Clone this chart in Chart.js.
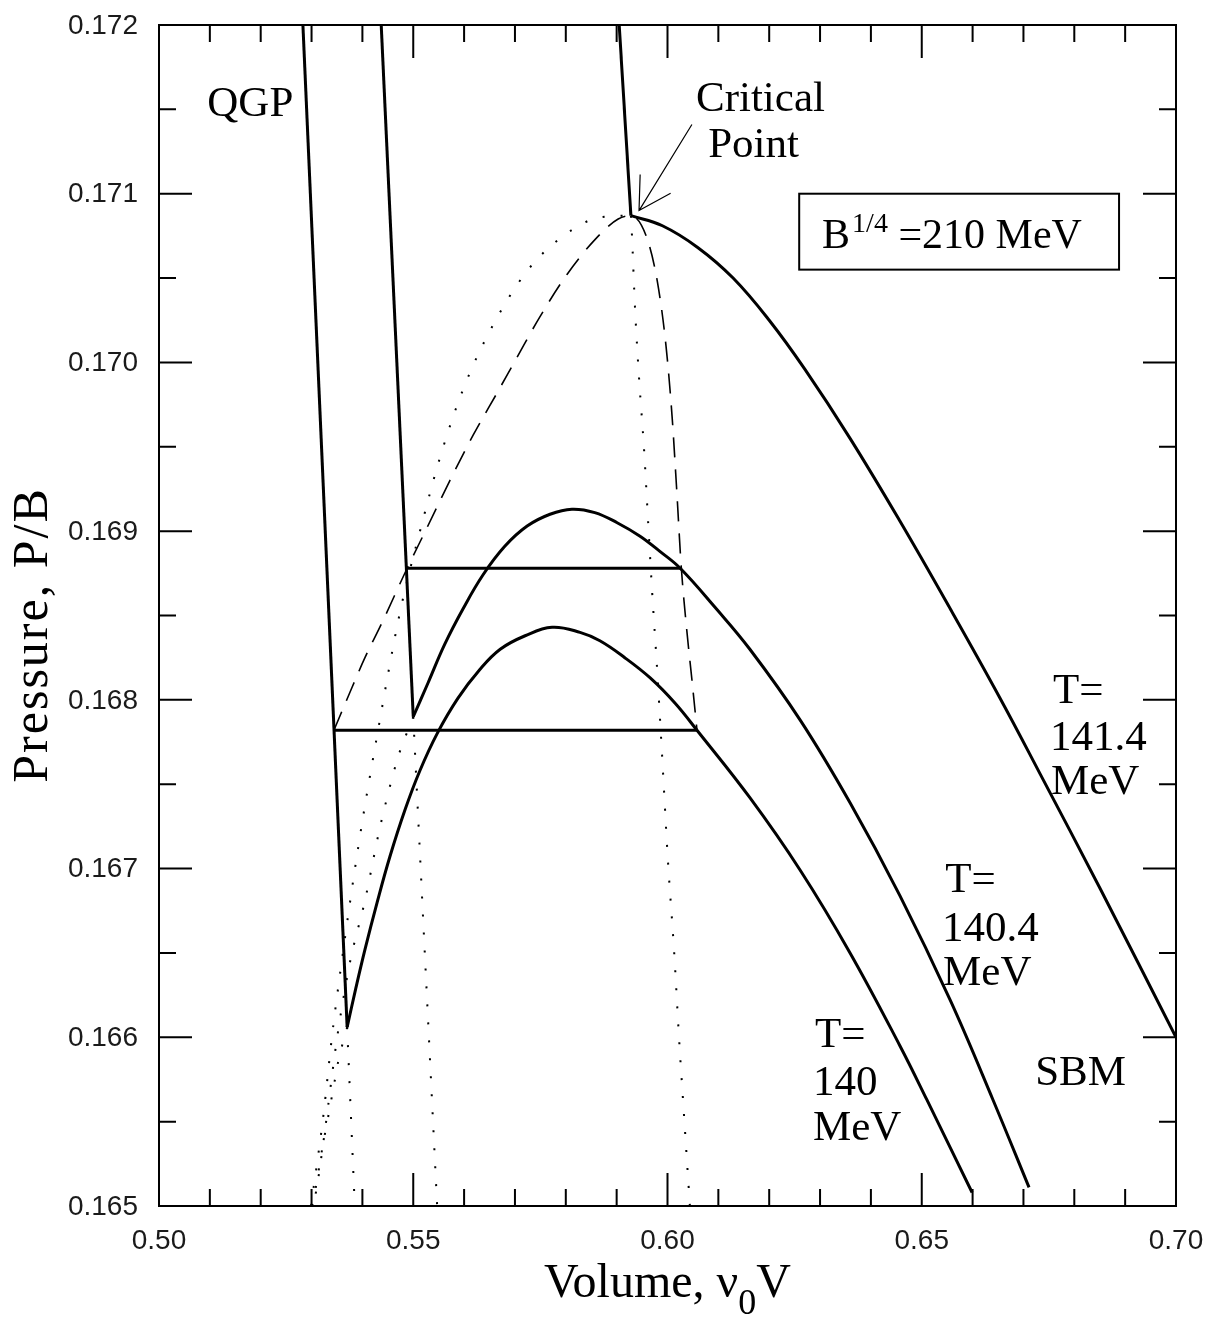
<!DOCTYPE html>
<html>
<head>
<meta charset="utf-8">
<script src="https://cdn.jsdelivr.net/npm/chart.js@4.4.0/dist/chart.umd.min.js"></script>
<style>
  html, body { margin: 0; padding: 0; background: #fff; }
</style>
</head>
<body>
<canvas id="pv" width="1208" height="1320"></canvas>
<script>
// points as [volume nu0*V, pressure P/B]
const qgp140 = [[0.5283, 0.17200], [0.5370, 0.16606]];
const hadron140 = [[0.5370, 0.16606], [0.5387, 0.16629], [0.5405, 0.16652], [0.5429, 0.16680], [0.5454, 0.16707],
  [0.5484, 0.16735], [0.5513, 0.16758], [0.5547, 0.16780], [0.5588, 0.16801], [0.5631, 0.16818], [0.5671, 0.16830],
  [0.5720, 0.16838], [0.5773, 0.16843], [0.5828, 0.16840], [0.5867, 0.16835], [0.5916, 0.16825], [0.5966, 0.16813],
  [0.6015, 0.16798], [0.6058, 0.16782], [0.6162, 0.16742], [0.6261, 0.16699], [0.6359, 0.16650], [0.6457, 0.16595],
  [0.6510, 0.16563], [0.6599, 0.16508]];

const qgp1404 = [[0.5437, 0.17200], [0.5500, 0.16790]];
const hadron1404 = [[0.5500, 0.16790], [0.5529, 0.16810], [0.5562, 0.16833], [0.5598, 0.16854], [0.5637, 0.16874],
  [0.5680, 0.16891], [0.5724, 0.16903], [0.5769, 0.16910], [0.5812, 0.16913], [0.5857, 0.16911], [0.5901, 0.16905],
  [0.5946, 0.16897], [0.5985, 0.16888], [0.6025, 0.16878], [0.6093, 0.16855], [0.6162, 0.16830], [0.6261, 0.16788],
  [0.6359, 0.16739], [0.6457, 0.16684], [0.6556, 0.16622], [0.6640, 0.16563], [0.6711, 0.16511]];

const qgp1414 = [[0.5905, 0.17200], [0.5928, 0.17087]];
const hadron1414 = [[0.5928, 0.17087], [0.5990, 0.17081], [0.6060, 0.17068], [0.6129, 0.17050],
  [0.6200, 0.17025], [0.6270, 0.16996], [0.6359, 0.16955], [0.6457, 0.16906], [0.6556, 0.16854],
  [0.6654, 0.16801], [0.6733, 0.16756], [0.6851, 0.16688], [0.7000, 0.16600]];

// Maxwell tie lines
const tie140 = [[0.5344, 0.16782], [0.6058, 0.16782]];
const tie1404 = [[0.5488, 0.16878], [0.6025, 0.16878]];

// coexistence curve (dashed)
const coexist = [[0.5344, 0.16782], [0.5372, 0.16802], [0.5405, 0.16825], [0.5439, 0.16846], [0.5488, 0.16878],
  [0.5527, 0.16902], [0.5572, 0.16930], [0.5618, 0.16957], [0.5665, 0.16982], [0.5704, 0.17003], [0.5749, 0.17027],
  [0.5802, 0.17052], [0.5861, 0.17074], [0.5903, 0.17085], [0.5928, 0.17087], [0.5958, 0.17075], [0.5980, 0.17048],
  [0.5997, 0.17010], [0.6009, 0.16968], [0.6018, 0.16925], [0.6027, 0.16879], [0.6038, 0.16841],
  [0.6048, 0.16812], [0.6058, 0.16782]];

// spinodal and metastable branches (dotted)
const spinLeft = [[0.5299, 0.16500], [0.5323, 0.16553], [0.5340, 0.16600], [0.5358, 0.16642], [0.5393, 0.16715],
  [0.5429, 0.16779], [0.5474, 0.16852], [0.5515, 0.16902], [0.5553, 0.16944], [0.5598, 0.16984], [0.5653, 0.17020],
  [0.5726, 0.17055], [0.5800, 0.17076], [0.5867, 0.17086], [0.5928, 0.17087]];
const spinRight = [[0.5928, 0.17087], [0.5930, 0.17076], [0.5936, 0.17033], [0.5944, 0.16991], [0.5954, 0.16948],
  [0.5962, 0.16905], [0.5970, 0.16863], [0.5979, 0.16821], [0.5989, 0.16769], [0.6001, 0.16704], [0.6013, 0.16651],
  [0.6023, 0.16598], [0.6032, 0.16556], [0.6044, 0.16500]];
const meta1404 = [[0.5500, 0.16790], [0.5470, 0.16766], [0.5435, 0.16725], [0.5405, 0.16681], [0.5378, 0.16648],
  [0.5362, 0.16622], [0.5348, 0.16595], [0.5326, 0.16544], [0.5311, 0.16512], [0.5303, 0.16500]];
const meta140 = [[0.5370, 0.16606], [0.5360, 0.16595], [0.5352, 0.16585], [0.5346, 0.16575], [0.5334, 0.16555],
  [0.5321, 0.16534], [0.5309, 0.16512], [0.5301, 0.16500]];
const qgpCont140 = [[0.5370, 0.16606], [0.5385, 0.16500]];
const qgpCont1404 = [[0.5500, 0.16790], [0.5547, 0.16500]];

// text placed in data coordinates (left edge, baseline)
const notes = [
  ['QGP', 0.5095, 0.17146],
  ['Critical', 0.6056, 0.17149],
  ['Point', 0.6080, 0.17122],
  ['T=', 0.6758, 0.16798], ['141.4', 0.6752, 0.16770], ['MeV', 0.6754, 0.16744],
  ['T=', 0.6546, 0.16686], ['140.4', 0.6540, 0.16657], ['MeV', 0.6542, 0.16631],
  ['T=', 0.6290, 0.16594], ['140', 0.6286, 0.16566], ['MeV', 0.6286, 0.16539],
  ['SBM', 0.6723, 0.16572]
];
const arrowTail = [0.6048, 0.17141];
const arrowTip = [0.5944, 0.17090];
const boxCorners = [[0.6259, 0.17100], [0.6888, 0.17055]];
const boxText = [0.6304, 0.17068];

const xTickLabels = [0.50, 0.55, 0.60, 0.65, 0.70];
const yTickLabels = [0.165, 0.166, 0.167, 0.168, 0.169, 0.170, 0.171, 0.172];

const pts = arr => arr.map(d => ({ x: d[0], y: d[1] }));

function solid(data, tension) {
  return { data: pts(data), showLine: true, pointRadius: 0, borderColor: '#000', borderWidth: 3, tension: tension };
}
function dotted(data, mode) {
  const ds = { data: pts(data), showLine: true, pointRadius: 0, borderColor: '#000', borderWidth: 2,
    borderDash: [2, 16], borderCapStyle: 'butt' };
  if (mode === 'mono') ds.cubicInterpolationMode = 'monotone';
  else ds.tension = mode;
  return ds;
}

const serif = '"Liberation Serif", "Times New Roman", serif';
const sans = '"Liberation Sans", Arial, sans-serif';

const framePlugin = {
  id: 'framePlugin',
  afterDraw(chart) {
    const { ctx, chartArea: a, scales: { x, y } } = chart;
    ctx.save();
    ctx.strokeStyle = '#000';
    ctx.lineWidth = 2;
    ctx.strokeRect(a.left, a.top, a.right - a.left, a.bottom - a.top);

    // inward ticks on all four sides
    ctx.beginPath();
    for (let i = 0; i <= 20; i++) {
      const px = x.getPixelForValue(0.5 + i * 0.01);
      const len = i % 5 === 0 ? 33 : 17;
      ctx.moveTo(px, a.bottom); ctx.lineTo(px, a.bottom - len);
      ctx.moveTo(px, a.top); ctx.lineTo(px, a.top + len);
    }
    for (let i = 0; i <= 14; i++) {
      const py = y.getPixelForValue(0.165 + i * 0.0005);
      const len = i % 2 === 0 ? 33 : 17;
      ctx.moveTo(a.left, py); ctx.lineTo(a.left + len, py);
      ctx.moveTo(a.right, py); ctx.lineTo(a.right - len, py);
    }
    ctx.stroke();

    // tick labels
    ctx.fillStyle = '#1a1a1a';
    ctx.font = '28px ' + sans;
    ctx.textBaseline = 'middle';
    ctx.textAlign = 'right';
    yTickLabels.forEach(v => ctx.fillText(v.toFixed(3), a.left - 21, y.getPixelForValue(v) + 1));
    ctx.textAlign = 'center';
    xTickLabels.forEach(v => ctx.fillText(v.toFixed(2), x.getPixelForValue(v), a.bottom + 35));

    ctx.fillStyle = '#000';
    ctx.textAlign = 'left';
    ctx.textBaseline = 'alphabetic';
    ctx.font = '43px ' + serif;
    notes.forEach(n => ctx.fillText(n[0], x.getPixelForValue(n[1]), y.getPixelForValue(n[2])));

    // arrow to critical point
    const tx = x.getPixelForValue(arrowTail[0]), ty = y.getPixelForValue(arrowTail[1]);
    const hx = x.getPixelForValue(arrowTip[0]), hy = y.getPixelForValue(arrowTip[1]);
    const ang = Math.atan2(ty - hy, tx - hx);
    ctx.lineWidth = 1.2;
    ctx.beginPath();
    ctx.moveTo(tx, ty); ctx.lineTo(hx, hy);
    ctx.moveTo(hx + 36 * Math.cos(ang - 0.52), hy + 36 * Math.sin(ang - 0.52));
    ctx.lineTo(hx, hy);
    ctx.lineTo(hx + 36 * Math.cos(ang + 0.52), hy + 36 * Math.sin(ang + 0.52));
    ctx.stroke();

    // B^{1/4} box
    const bx1 = x.getPixelForValue(boxCorners[0][0]), by1 = y.getPixelForValue(boxCorners[0][1]);
    const bx2 = x.getPixelForValue(boxCorners[1][0]), by2 = y.getPixelForValue(boxCorners[1][1]);
    ctx.lineWidth = 2;
    ctx.strokeRect(bx1, by1, bx2 - bx1, by2 - by1);
    let cx = x.getPixelForValue(boxText[0]);
    const cy = y.getPixelForValue(boxText[1]);
    ctx.font = '42px ' + serif;
    ctx.fillText('B', cx, cy);
    cx += ctx.measureText('B').width + 2;
    ctx.font = '28px ' + serif;
    ctx.fillText('1/4', cx, cy - 16);
    cx += ctx.measureText('1/4').width;
    ctx.font = '42px ' + serif;
    ctx.fillText(' =210 MeV', cx, cy);

    // axis titles
    const mid = (a.left + a.right) / 2;
    const base = a.bottom + 91;
    ctx.font = '48px ' + serif;
    const w1 = ctx.measureText('Volume, \u03BD').width;
    const wV = ctx.measureText('V').width;
    ctx.font = '36px ' + serif;
    const w0 = ctx.measureText('0').width;
    const sx = mid - (w1 + w0 + wV) / 2;
    ctx.font = '48px ' + serif;
    ctx.fillText('Volume, \u03BD', sx, base);
    ctx.font = '36px ' + serif;
    ctx.fillText('0', sx + w1, base + 17);
    ctx.font = '48px ' + serif;
    ctx.fillText('V', sx + w1 + w0, base);

    ctx.translate(47, 635);
    ctx.rotate(-Math.PI / 2);
    ctx.textAlign = 'center';
    ctx.font = '50px ' + serif;
    ctx.letterSpacing = '2px';
    ctx.fillText('Pressure, P/B', 0, 0);
    ctx.restore();
  }
};

new Chart(document.getElementById('pv'), {
  type: 'scatter',
  data: {
    datasets: [
      solid(qgp140, 0), solid(hadron140, 0.4),
      solid(qgp1404, 0), solid(hadron1404, 0.4),
      solid(qgp1414, 0), solid(hadron1414, 0.4),
      solid(tie140, 0), solid(tie1404, 0),
      { data: pts(coexist), showLine: true, pointRadius: 0, borderColor: '#000', borderWidth: 1.6,
        borderDash: [20, 12], cubicInterpolationMode: 'monotone' },
      dotted(spinLeft, 'mono'), dotted(spinRight, 'mono'),
      dotted(meta1404, 0.3), dotted(meta140, 0.3),
      dotted(qgpCont140, 0), dotted(qgpCont1404, 0)
    ]
  },
  options: {
    responsive: false,
    animation: false,
    devicePixelRatio: 1,
    layout: { padding: { top: 25, right: 32, left: 0, bottom: 0 } },
    plugins: { legend: { display: false }, tooltip: { enabled: false } },
    scales: {
      x: {
        type: 'linear', min: 0.5, max: 0.7,
        afterFit: s => { s.height = 114; },
        grid: { display: false, drawTicks: false },
        border: { display: false },
        ticks: { display: false }
      },
      y: {
        type: 'linear', min: 0.165, max: 0.172,
        afterFit: s => { s.width = 159; },
        grid: { display: false, drawTicks: false },
        border: { display: false },
        ticks: { display: false }
      }
    }
  },
  plugins: [framePlugin]
});
</script>
</body>
</html>
